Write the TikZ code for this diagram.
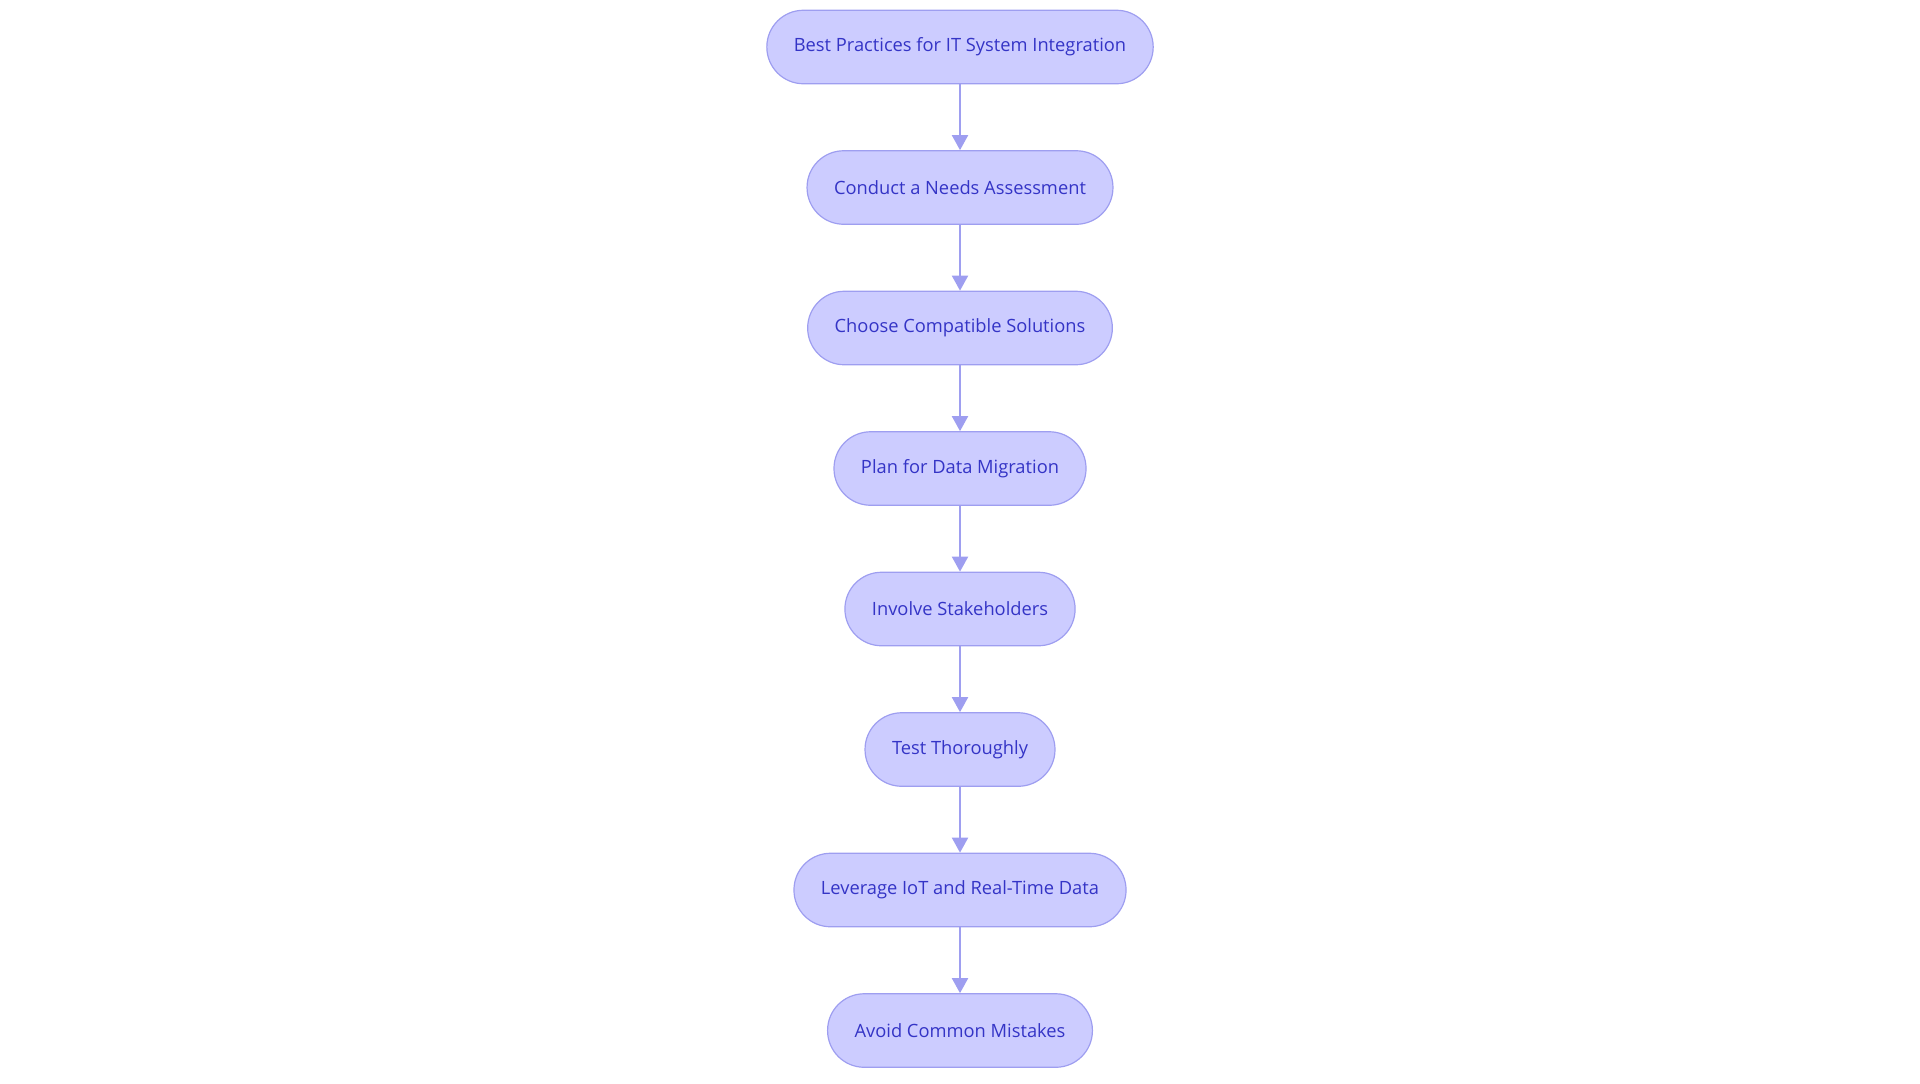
\documentclass[tikz,border=0pt]{standalone}
\usepackage{fontspec}
\setmainfont{Open Sans}
\usetikzlibrary{arrows.meta,positioning}
\definecolor{stepFill}{HTML}{CCCCFF}
\definecolor{stepLine}{HTML}{9E9EF0}
\definecolor{stepText}{HTML}{3434C6}
\tikzset{
  pill/.style={draw=stepLine, fill=stepFill, line width=0.6pt, rounded corners=18.3pt,
    minimum height=36.75pt, inner xsep=13.5pt, font=\fontsize{9.15}{11}\selectfont,
    text=stepText},
  arr/.style={-{Triangle[length=7.5pt,width=8pt]}, line width=1pt, stepLine}
}
\begin{document}
\begin{tikzpicture}[x=0.5pt,y=0.5pt]
  \useasboundingbox (0,0) rectangle (1920,-1083);
  \foreach \i/\t in {1/Best Practices for IT System Integration,2/Conduct a Needs Assessment,
    3/Choose Compatible Solutions,4/Plan for Data Migration,5/Involve Stakeholders,
    6/Test Thoroughly,7/Leverage IoT and Real-Time Data,8/Avoid Common Mistakes}{
    \pgfmathsetmacro{\y}{-47-140.5*(\i-1)}
    \node[pill] (s\i) at (960,\y) {\t};
  }
  \foreach \a/\b in {1/2,2/3,3/4,4/5,5/6,6/7,7/8}
    \draw[arr] (s\a) -- (s\b);
\end{tikzpicture}
\end{document}
